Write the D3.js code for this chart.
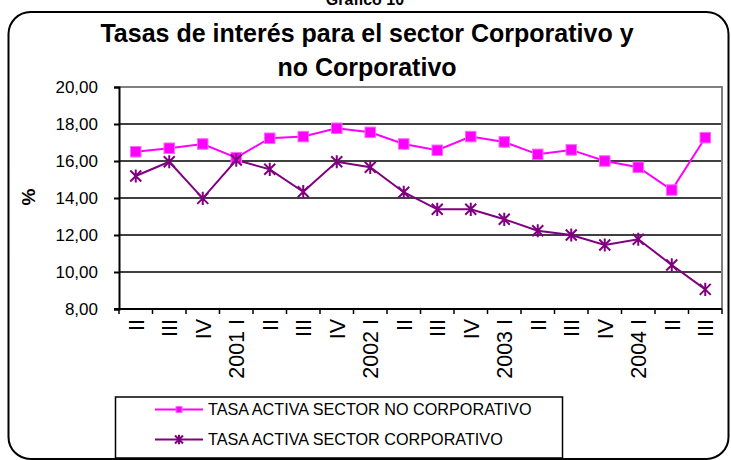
<!DOCTYPE html>
<html>
<head>
<meta charset="utf-8">
<script src="https://cdn.jsdelivr.net/npm/d3@7"></script>
<style>
  body { margin: 0; background: #fff; }
  text { font-family: "Liberation Sans", Arial, sans-serif; }
</style>
</head>
<body>
<svg id="chart" width="731" height="460"></svg>
<script>
// quarter labels, year shown on first quarter
const categories = ["II", "III", "IV", "2001 I", "II", "III", "IV", "2002 I", "II", "III", "IV",
                    "2003 I", "II", "III", "IV", "2004 I", "II", "III"];
const noCorporativo = [16.50, 16.69, 16.92, 16.18, 17.23, 17.32, 17.77, 17.55, 16.92, 16.58,
                       17.32, 17.03, 16.36, 16.60, 16.00, 15.66, 14.43, 17.26];
const corporativo = [15.19, 15.96, 13.98, 16.05, 15.55, 14.34, 15.96, 15.66, 14.31, 13.39,
                     13.39, 12.85, 12.23, 12.00, 11.46, 11.77, 10.38, 9.06];
const yTicks = [8, 10, 12, 14, 16, 18, 20];
const seriesNames = ["TASA ACTIVA SECTOR NO CORPORATIVO", "TASA ACTIVA SECTOR CORPORATIVO"];

const pink = "#ff00ff", purple = "#800080";
const svg = d3.select("#chart");
const plotLeft = 119, plotRight = 722, plotTop = 87, plotBottom = 309;

// outer rounded frame
svg.append("rect").attr("x", 8.5).attr("y", 12).attr("width", 720).attr("height", 447)
    .attr("rx", 22).attr("fill", "none").attr("stroke", "#000").attr("stroke-width", 2);

svg.append("text").attr("x", 365).attr("y", 5).attr("text-anchor", "middle")
    .attr("font-weight", "bold").attr("font-size", 16).text("Gráfico 10");

const title = svg.append("text").attr("text-anchor", "middle")
    .attr("font-weight", "bold").attr("font-size", 25);
title.append("tspan").attr("x", 367).attr("y", 42).text("Tasas de interés para el sector Corporativo y");
title.append("tspan").attr("x", 367).attr("y", 76).text("no Corporativo");

const x = d3.scaleBand().domain(d3.range(categories.length)).range([plotLeft, plotRight]);
const y = d3.scaleLinear().domain([8, 20]).range([plotBottom, plotTop]);
const cx = i => x(i) + x.bandwidth() / 2;

// grid lines
svg.append("g").selectAll("line").data(yTicks.filter(t => t > 8 && t < 20)).join("line")
    .attr("x1", plotLeft).attr("x2", plotRight).attr("y1", d => y(d)).attr("y2", d => y(d))
    .attr("stroke", "#000").attr("stroke-width", 1.5);

// plot area frame top/right in gray
svg.append("path").attr("d", `M${plotLeft},${y(20)}H${plotRight}V${plotBottom}`)
    .attr("fill", "none").attr("stroke", "#808080").attr("stroke-width", 2);

// y axis
const yAxis = d3.axisLeft(y).tickValues(yTicks).tickSize(5).tickPadding(16)
    .tickFormat(d => d3.format(".2f")(d).replace(".", ","));
svg.append("g").attr("transform", `translate(${plotLeft},0)`).call(yAxis)
    .call(g => g.selectAll("text").attr("font-size", 17).attr("fill", "#000"))
    .call(g => g.selectAll("line, path").attr("stroke", "#000").attr("stroke-width", 2));

// x axis: ticks between categories
const gx = svg.append("g");
gx.append("line").attr("x1", plotLeft - 5).attr("x2", plotRight).attr("y1", plotBottom).attr("y2", plotBottom)
    .attr("stroke", "#000").attr("stroke-width", 2);
gx.selectAll(".tk").data(d3.range(categories.length + 1)).join("line").attr("class", "tk")
    .attr("x1", i => plotLeft + i * x.bandwidth()).attr("x2", i => plotLeft + i * x.bandwidth())
    .attr("y1", plotBottom).attr("y2", plotBottom + 5).attr("stroke", "#000").attr("stroke-width", 1.5);
gx.selectAll(".lbl").data(categories).join("text").attr("class", "lbl")
    .attr("transform", (d, i) => `translate(${cx(i)},319) rotate(-90)`)
    .attr("text-anchor", "end").attr("dy", "0.36em").attr("font-size", 21.5).text(d => d);

svg.append("text").attr("transform", "translate(28,197) rotate(-90)").attr("text-anchor", "middle")
    .attr("dy", "0.36em").attr("font-weight", "bold").attr("font-size", 19).text("%");

// lines
const line = d3.line().x((d, i) => cx(i)).y(d => y(d));
svg.append("path").datum(noCorporativo).attr("d", line).attr("fill", "none")
    .attr("stroke", pink).attr("stroke-width", 2);
svg.append("path").datum(corporativo).attr("d", line).attr("fill", "none")
    .attr("stroke", purple).attr("stroke-width", 2);

function square(g, px, py, s) {
  g.append("rect").attr("x", px - s / 2).attr("y", py - s / 2).attr("width", s).attr("height", s)
      .attr("fill", pink).attr("stroke", "#ff66ff").attr("stroke-width", 1);
}
function star(g, px, py, r) {
  g.append("path")
      .attr("d", `M${px - r},${py - r}L${px + r},${py + r}M${px - r},${py + r}L${px + r},${py - r}M${px},${py - r * 1.2}V${py + r * 1.2}`)
      .attr("stroke", purple).attr("stroke-width", 2).attr("fill", "none");
}
const mk = svg.append("g");
noCorporativo.forEach((v, i) => square(mk, cx(i), y(v), 10.5));
corporativo.forEach((v, i) => star(mk, cx(i), y(v), 5.5));

// legend
const lg = svg.append("g");
lg.append("rect").attr("x", 115.5).attr("y", 397).attr("width", 447).attr("height", 61)
    .attr("fill", "#fff").attr("stroke", "#000").attr("stroke-width", 1.5);
[409.5, 439.5].forEach((ly, k) => {
  lg.append("line").attr("x1", 155).attr("x2", 203).attr("y1", ly).attr("y2", ly)
      .attr("stroke", k === 0 ? pink : purple).attr("stroke-width", 2);
  if (k === 0) square(lg, 179, ly, 6); else star(lg, 179, ly, 4);
  lg.append("text").attr("x", 208).attr("y", ly).attr("dy", "0.36em")
      .attr("font-size", 16.2).text(seriesNames[k]);
});
</script>
</body>
</html>
